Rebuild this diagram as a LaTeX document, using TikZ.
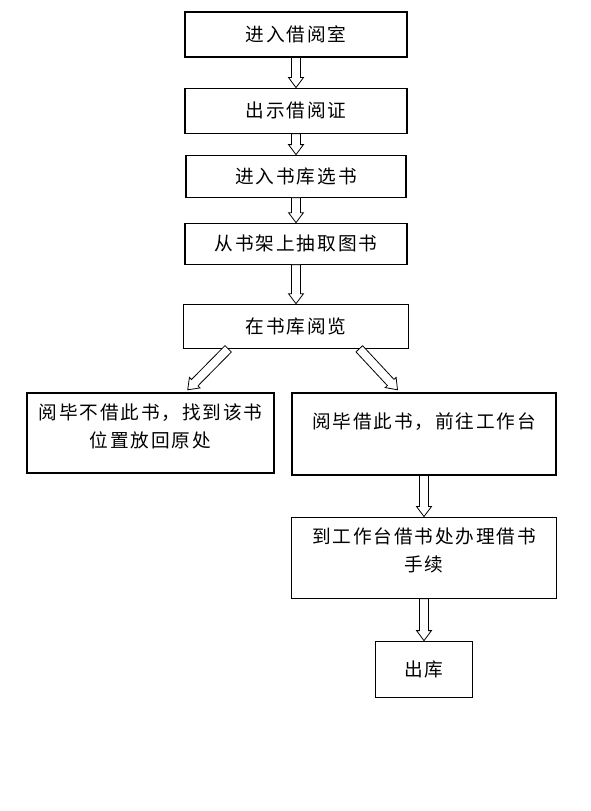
\documentclass[tikz,border=0pt]{standalone}
\usepackage{fontspec}
\newfontfamily\cjkfont[LetterSpace=10]{Noto Sans CJK SC}
\usepackage{tikz}
\usetikzlibrary{positioning,calc}

\tikzset{
  box/.style={draw, rectangle, line width=0.8pt, inner sep=2pt, align=center},
  % hollow block arrow between two points
  hollow/.style={draw, fill=white, line width=0.6pt, to path={
    ($(\tikztostart)!3.4pt!90:(\tikztotarget)$) --
    ($(\tikztotarget)!7.5pt!(\tikztostart)!3.4pt!-90:(\tikztostart)$) --
    ($(\tikztotarget)!7.5pt!(\tikztostart)!5.6pt!-90:(\tikztostart)$) --
    (\tikztotarget) --
    ($(\tikztotarget)!7.5pt!(\tikztostart)!5.6pt!90:(\tikztostart)$) --
    ($(\tikztotarget)!7.5pt!(\tikztostart)!3.4pt!90:(\tikztostart)$) --
    ($(\tikztostart)!3.4pt!-90:(\tikztotarget)$) -- cycle}}
}

\begin{document}
\begin{tikzpicture}[font=\cjkfont\fontsize{14pt}{21pt}\selectfont]
  \useasboundingbox (0,0) rectangle (442.5pt,-608.25pt);

  \node[box, minimum width=166.5pt, minimum height=33.75pt] (enter) at (222pt,-25.875pt) {进入借阅室};
  \node[box, below=22.5pt of enter, minimum width=166.5pt, minimum height=33.75pt] (card) {出示借阅证};
  \node[box, below=15.75pt of card, minimum width=165pt, minimum height=31.5pt] (choose) {进入书库选书};
  \node[box, below=18.75pt of choose, minimum width=166.5pt, minimum height=30.75pt] (shelf) {从书架上抽取图书};
  \node[box, below=29.25pt of shelf, minimum width=168.75pt, minimum height=33pt] (read) {在书库阅览};

  \node[box, minimum width=185.25pt, minimum height=60pt, text width=181pt] (back) at (112.875pt,-324.75pt)
    {阅毕不借此书，找到该书\\位置放回原处\par\vspace{10.5pt}\hrule height 0pt};
  \node[box, minimum width=198pt, minimum height=61.5pt, text width=192pt] (borrow) at (318pt,-325.5pt)
    {阅毕借此书，前往工作台\par\vspace{18pt}\hrule height 0pt};
  \node[box, below=30.75pt of borrow, minimum width=198.75pt, minimum height=60.75pt, text width=192pt] (desk)
    {到工作台借书处办理借书\\手续\par\vspace{10.5pt}\hrule height 0pt};
  \node[box, below=31.5pt of desk, minimum width=72.75pt, minimum height=42pt] (exit) {出库};

  \coordinate (readL) at ($(read.south west)!0.2!(read.south east)$);
  \coordinate (readR) at ($(read.south west)!0.78!(read.south east)$);
  \coordinate (backT) at ($(back.north west)!0.65!(back.north east)+(0,2pt)$);
  \coordinate (borrowT) at ($(borrow.north west)!0.4!(borrow.north east)+(0,2pt)$);

  \draw[hollow] (enter.south) to (card.north);
  \draw[hollow] (card.south) to (choose.north);
  \draw[hollow] (choose.south) to (shelf.north);
  \draw[hollow] (shelf.south) to (read.north);
  \draw[hollow] (readL) to (backT);
  \draw[hollow] (readR) to (borrowT);
  \draw[hollow] (borrow.south) to (desk.north);
  \draw[hollow] (desk.south) to (exit.north);
\end{tikzpicture}
\end{document}
